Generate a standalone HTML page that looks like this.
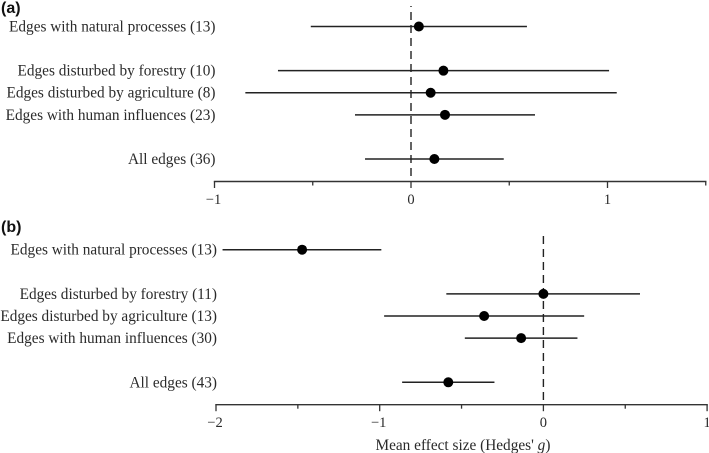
<!DOCTYPE html>
<html>
<head>
<meta charset="utf-8">
<style>
html,body{margin:0;padding:0;background:#fff;width:709px;height:453px;overflow:hidden}
svg{display:block}
text{font-family:"Liberation Serif",serif;fill:#2a2a2a}
</style>
</head>
<body>
<svg id="chart" width="709" height="453" viewBox="0 0 709 453" xmlns="http://www.w3.org/2000/svg"></svg>
<script>
const categoriesA = ["Edges with natural processes (13)","Edges disturbed by forestry (10)","Edges disturbed by agriculture (8)","Edges with human influences (23)","All edges (36)"];
const meansA = [0.04,0.165,0.10,0.173,0.119];
const lowsA = [-0.51,-0.677,-0.843,-0.285,-0.234];
const highsA = [0.59,1.008,1.047,0.631,0.472];
const categoriesB = ["Edges with natural processes (13)","Edges disturbed by forestry (11)","Edges disturbed by agriculture (13)","Edges with human influences (30)","All edges (43)"];
const meansB = [-1.474,0,-0.362,-0.136,-0.581];
const lowsB = [-1.96,-0.593,-0.973,-0.48,-0.863];
const highsB = [-0.99,0.59,0.249,0.208,-0.299];
const rowSlots = [0,2,3,4,6];
const majorTicksA = [-1,0,1];
const minorTicksA = [-0.5,0.5,1.5];
const majorTicksB = [-2,-1,0,1];
const minorTicksB = [-1.5,-0.5,0.5];

const NS = 'http://www.w3.org/2000/svg';
const svg = document.getElementById('chart');

function make(tag, attrs, parent, content){
  const el = document.createElementNS(NS, tag);
  for(const k in attrs) el.setAttribute(k, attrs[k]);
  if(content !== undefined) el.textContent = content;
  parent.appendChild(el);
  return el;
}

function tickText(v){ return v < 0 ? '\u2212' + Math.abs(v) : String(v); }

function drawPanel(p){
  const x = v => p.x0 + (v - p.vmin) * p.scale;
  const y = slot => p.y0 + slot * p.rowStep;

  const panel = make('g', {}, svg);
  
  

  const title = make('text', {x:p.titleX, y:p.titleY, style:'font-family:\'Liberation Sans\',sans-serif;font-weight:bold;font-size:16px;fill:#111'}, panel, '(' + p.id + ')');
  
  

  const zero = make('line', {x1:x(0), x2:x(0), y1:p.refTop, y2:p.axisY, stroke:'#222', 'stroke-width':1.4, 'stroke-dasharray':'8 5', 'stroke-dashoffset':p.refOffset}, panel);
  
  

  const axis = make('line', {x1:x(p.vmin)-0.7, x2:x(p.vmax)+0.7, y1:p.axisY, y2:p.axisY, stroke:'#333', 'stroke-width':1.4}, panel);
  
  

  p.major.forEach(v => {
    const t = make('line', {x1:x(v), x2:x(v), y1:p.axisY, y2:p.axisY+6.5, stroke:'#333', 'stroke-width':1.3}, panel);
    
    
    const l = make('text', {x:x(v) - (v < 0 ? 1 : 0), y:p.axisY+22.5, 'text-anchor':'middle', 'font-size':'14.5px'}, panel, tickText(v));
    
    
  });
  p.minor.forEach(v => {
    const t = make('line', {x1:x(v), x2:x(v), y1:p.axisY, y2:p.axisY+4, stroke:'#333', 'stroke-width':1.3}, panel);
    
    
  });

  p.categories.forEach((c, i) => {
    const yy = y(rowSlots[i]);
    const lab = make('text', {x:p.labelX, y:yy+5, 'text-anchor':'end', 'font-size':'15.3px'}, panel, c);
    
    
    const ci = make('line', {x1:x(p.lows[i]), x2:x(p.highs[i]), y1:yy, y2:yy, stroke:'#222', 'stroke-width':1.5}, panel);
    
    
    const dot = make('circle', {cx:x(p.means[i]), cy:yy, r:5, fill:'#000'}, panel);
    
    
  });
}

drawPanel({id:'a', categories:categoriesA, means:meansA, lows:lowsA, highs:highsA, major:majorTicksA, minor:minorTicksA,
  vmin:-1, vmax:1.5, x0:214.5, scale:196.5, y0:26.5, rowStep:22.08, axisY:181.5, refTop:6, refOffset:7, labelX:215.5, titleX:1, titleY:13});
drawPanel({id:'b', categories:categoriesB, means:meansB, lows:lowsB, highs:highsB, major:majorTicksB, minor:minorTicksB,
  vmin:-2, vmax:1, x0:216, scale:163.7, y0:249.7, rowStep:22.1, axisY:404.7, refTop:236, refOffset:0, labelX:217, titleX:1, titleY:232});

const xTitle = make('text', {x:375.5, y:450, 'font-size':'15.3px'}, svg);


xTitle.appendChild(document.createTextNode("Mean effect size (Hedges' "));
make('tspan', {'font-style':'italic'}, xTitle, 'g');
xTitle.appendChild(document.createTextNode(')'));
</script>
</body>
</html>
